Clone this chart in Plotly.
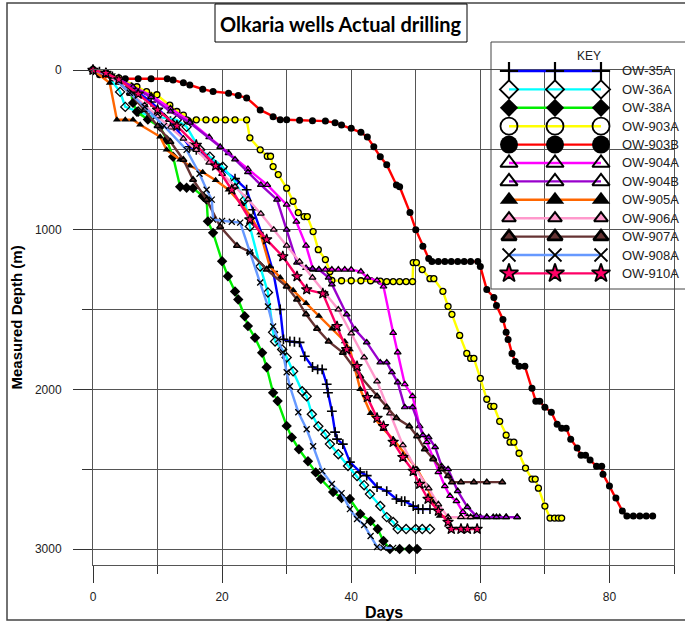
import plotly.graph_objects as go

W, H = 685, 622
# plot-area edges in pixels (left, right, top, bottom)
PL, PR, PT, PB = 93, 674, 70, 565

# ---------------- well data: days since spud vs measured depth (m) ----------------
ow35a_days = [0, 1, 3, 6, 9, 12, 15, 16, 18, 20, 22, 23.8, 24.8, 26.3, 27.9, 29, 29.5, 30.5, 31.2, 32, 32.8, 34, 34.8, 35.5, 36.2, 36.4, 37, 37.5, 37.8, 38.7, 39.8, 41.4, 42.4, 44, 45.5, 47, 47.8, 48.3, 49.6, 50.4, 51.1, 52.2]
ow35a_depth = [0, 10, 40, 110, 200, 320, 481, 500, 560, 620, 680, 750, 875, 1043, 1262, 1500, 1687, 1700, 1702, 1706, 1793, 1860, 1875, 1875, 1968, 2021, 2137, 2268, 2312, 2343, 2456, 2518, 2540, 2612, 2637, 2687, 2700, 2700, 2731, 2750, 2750, 2750]

ow36a_days = [0, 2, 4.2, 5, 7, 9, 11, 13, 14.5, 16.6, 18.1, 20.1, 22, 23.5, 24.3, 25.9, 27.1, 27.9, 28.2, 29.3, 30, 31, 32.4, 33.1, 33.9, 34.9, 36, 36.7, 38, 39.5, 40.9, 42, 42.9, 44.5, 45.5, 46.5, 47.2, 48.5, 50, 51, 52.2]
ow36a_depth = [0, 20, 137, 231, 260, 290, 300, 312, 356, 500, 543, 606, 700, 812, 980, 1231, 1393, 1643, 1700, 1750, 1800, 1887, 2012, 2043, 2156, 2231, 2281, 2343, 2406, 2480, 2543, 2600, 2656, 2731, 2800, 2831, 2875, 2875, 2875, 2875, 2875]

ow38a_days = [0, 2, 4, 5.7, 6.2, 6.8, 8.5, 10.4, 11.4, 12.4, 13.5, 14.5, 15.5, 17, 17.6, 17.8, 18.6, 20, 20.9, 22, 22.5, 23.5, 24, 25.1, 26.2, 26.9, 27.9, 28.6, 30, 30.8, 31.9, 33.3, 34.5, 35.3, 37.2, 38.5, 39.8, 41.4, 43, 44.1, 45, 46, 47.5, 49, 50.2]
ow38a_depth = [0, 20, 60, 106, 206, 262, 310, 356, 437, 543, 731, 737, 740, 790, 812, 948, 1020, 1198, 1292, 1387, 1437, 1542, 1604, 1677, 1771, 1862, 2021, 2073, 2229, 2301, 2375, 2450, 2520, 2562, 2643, 2680, 2687, 2781, 2825, 2875, 2950, 3000, 3000, 3000, 3000]

ow903a_days = [0, 2, 4, 6.8, 8.3, 9.9, 11.9, 13, 14, 14.5, 16, 17.5, 19, 20.5, 22, 23.8, 24.3, 25.9, 27, 27.5, 27.9, 28.7, 30, 31, 31.8, 32.7, 33.2, 34.1, 34.9, 36, 36.7, 37, 38.5, 40, 41.5, 43, 44.5, 45.5, 46.5, 47.5, 48.5, 49.5, 49.6, 50.1, 51, 52.2, 52.8, 54.2, 55, 55.6, 56.8, 57.9, 58.5, 59, 60, 61, 61.6, 62.1, 63, 64, 64.6, 65.2, 66, 67, 68, 68.5, 69, 70, 70.8, 71.5, 72.1, 72.6]
ow903a_depth = [0, 20, 50, 105, 135, 155, 220, 260, 282, 312, 312, 312, 312, 312, 312, 312, 425, 500, 540, 540, 605, 655, 740, 822, 893, 918, 918, 1012, 1125, 1187, 1262, 1318, 1320, 1320, 1320, 1320, 1322, 1325, 1325, 1325, 1325, 1325, 1206, 1206, 1250, 1307, 1307, 1386, 1480, 1530, 1662, 1775, 1806, 1806, 1931, 2062, 2106, 2106, 2200, 2287, 2331, 2331, 2400, 2493, 2562, 2562, 2619, 2731, 2806, 2806, 2806, 2806]

ow903b_days = [0, 1, 3, 5, 7, 9, 11.5, 12.4, 14, 15, 17, 18.6, 21, 22.5, 23.8, 25.9, 27.9, 29, 30, 32, 34, 36, 37.5, 38.5, 40, 41.5, 42.5, 43.5, 44.5, 45.5, 47, 47.5, 49.1, 50, 51.1, 52, 52.5, 53.5, 54.5, 55.5, 56.5, 57.5, 58.5, 59.6, 60, 61, 62.1, 62.5, 63.5, 64, 64.3, 64.9, 65.4, 66, 66.9, 68, 68.6, 69.2, 70, 71, 71.9, 72.6, 73.3, 74, 75, 75.6, 76.3, 77, 78, 78.8, 79, 80, 81, 82, 82.7, 83.7, 84.7, 85.7, 86.7]
ow903b_depth = [0, 30, 50, 55, 55, 55, 55, 62, 80, 94, 120, 135, 145, 160, 175, 250, 292, 312, 312, 315, 318, 320, 330, 345, 365, 390, 420, 480, 543, 593, 720, 731, 893, 1000, 1104, 1181, 1200, 1200, 1200, 1200, 1200, 1200, 1200, 1200, 1231, 1375, 1425, 1475, 1562, 1643, 1687, 1775, 1825, 1856, 1856, 1993, 2075, 2075, 2112, 2143, 2218, 2243, 2243, 2312, 2368, 2412, 2412, 2443, 2481, 2481, 2531, 2606, 2681, 2762, 2793, 2793, 2793, 2793, 2793]

ow904a_days = [0, 3, 6, 9, 12, 15, 18, 21, 24, 27, 30, 31.5, 33, 34.1, 35, 36, 37, 38, 39, 40, 41.5, 42.5, 44, 45, 46.5, 47.2, 48.3, 49.5, 50.6, 51.7, 52.7, 53.5, 54.5, 55.3, 56.3, 57.3, 58, 59, 60, 61, 62, 63, 64, 65.7]
ow904a_depth = [0, 40, 100, 160, 240, 320, 420, 520, 620, 720, 843, 950, 1100, 1250, 1250, 1250, 1250, 1250, 1250, 1250, 1262, 1300, 1318, 1356, 1646, 1768, 1968, 2043, 2231, 2331, 2431, 2518, 2606, 2668, 2700, 2768, 2800, 2800, 2800, 2800, 2800, 2800, 2800, 2800]

ow904b_days = [0, 3, 6.2, 9, 12, 15, 19.7, 22, 24, 26, 28.5, 30, 31.6, 33, 34, 35, 36.5, 37, 39.3, 40.6, 42.4, 44.5, 45.5, 46.3, 47.2, 48.3, 49.5, 51.1, 52, 53, 54, 55, 56.5, 58, 59.4, 61, 62.5, 64, 65.7]
ow904b_depth = [0, 40, 106, 170, 260, 330, 481, 560, 640, 720, 812, 1000, 1206, 1240, 1245, 1250, 1300, 1343, 1531, 1625, 1706, 1831, 1831, 1893, 1956, 2112, 2112, 2287, 2300, 2362, 2481, 2500, 2637, 2737, 2793, 2800, 2800, 2800, 2800]

ow905a_days = [0, 2.6, 3.7, 5, 6.2, 7.3, 10.4, 11.4, 13.5, 15, 17, 19, 21, 23, 24.5, 25.9, 27.4, 29, 31, 33, 35, 37, 39, 39.8, 41.4, 43, 45, 46.5, 48.6, 50.2, 51.7, 52.7, 53.7, 55, 57]
ow905a_depth = [0, 81, 312, 312, 312, 343, 418, 500, 562, 600, 640, 690, 750, 840, 920, 1020, 1231, 1300, 1380, 1460, 1540, 1620, 1700, 1750, 2000, 2150, 2250, 2312, 2418, 2500, 2606, 2706, 2793, 2800, 2800]

ow906a_days = [0, 2, 4, 6, 8, 10, 12, 14, 16, 18, 20, 22, 24, 26, 28, 30, 32, 34, 36, 38, 40, 42, 44, 46, 48, 50, 52, 53.5, 55, 57, 58.5]
ow906a_depth = [0, 30, 80, 150, 220, 290, 360, 430, 500, 580, 650, 730, 810, 900, 1000, 1100, 1200, 1300, 1400, 1500, 1650, 1800, 1950, 2150, 2350, 2500, 2620, 2720, 2800, 2800, 2800]

ow907a_days = [0, 3, 5.7, 8, 10, 12, 14, 15.5, 17.6, 19.7, 22.3, 24.3, 26.9, 30, 31.6, 33, 34.7, 36.5, 38.7, 41.4, 44, 45.5, 47, 49, 50.2, 51.4, 52.7, 54, 55, 55.6, 57, 59, 61, 63.4]
ow907a_depth = [0, 40, 143, 250, 350, 450, 562, 687, 812, 981, 1100, 1140, 1250, 1356, 1437, 1530, 1620, 1700, 1770, 1918, 2043, 2112, 2180, 2231, 2293, 2375, 2437, 2500, 2543, 2581, 2581, 2581, 2581, 2581]

ow908a_days = [0, 3, 5.7, 8, 11, 14.5, 16.5, 17.6, 18.4, 18.6, 20, 21.5, 22.8, 24.3, 25.9, 27.1, 27.9, 28.7, 29.4, 30, 30.5, 31.8, 33.1, 34.1, 35.5, 37, 38.5, 39.8, 40.9, 42, 43, 44, 45, 46.5]
ow908a_depth = [0, 40, 143, 230, 350, 500, 650, 750, 812, 937, 945, 950, 956, 1143, 1331, 1481, 1606, 1687, 1768, 1893, 1981, 2143, 2250, 2356, 2512, 2593, 2650, 2750, 2812, 2850, 2918, 2987, 2993, 2993]

ow910a_days = [0, 2, 4, 7, 10, 13, 16, 19, 21.5, 24.3, 26.9, 29.4, 31.6, 33.1, 35.6, 37.8, 39.3, 40.9, 42.5, 44, 45, 46.5, 48, 49.6, 50.6, 51.9, 53.5, 55, 55.5, 57, 58, 59.5]
ow910a_depth = [0, 20, 60, 150, 250, 350, 470, 600, 750, 937, 1062, 1168, 1293, 1375, 1400, 1606, 1750, 1856, 2050, 2180, 2231, 2330, 2425, 2512, 2593, 2687, 2762, 2831, 2875, 2875, 2875, 2875]

# tick values
x_major_ticks = [0, 20, 40, 60, 80]
y_major_ticks = [0, 1000, 2000, 3000]

# ---------------- per-well styling ----------------
wells = [
    dict(name="OW-35A", x=ow35a_days, y=ow35a_depth, color="#0000ff",
         sym="cross-thin", fill="black", edge="black", size=7, ew=1.6,
         lsym="cross-thin", lfill="black", lsize=13, lew=2.2),
    dict(name="OW-36A", x=ow36a_days, y=ow36a_depth, color="#00ffff",
         sym="diamond-open", fill="black", edge="black", size=7, ew=1.3,
         lsym="diamond-open", lfill="black", lsize=14, lew=1.8),
    dict(name="OW-38A", x=ow38a_days, y=ow38a_depth, color="#00ee00",
         sym="diamond", fill="black", edge="black", size=8, ew=0,
         lsym="diamond", lfill="black", lsize=14, lew=0),
    dict(name="OW-903A", x=ow903a_days, y=ow903a_depth, color="#ffff00",
         sym="circle", fill="#ffff00", edge="black", size=6, ew=1.3,
         lsym="circle-open", lfill="black", lsize=17, lew=1.8),
    dict(name="OW-903B", x=ow903b_days, y=ow903b_depth, color="#ff0000",
         sym="circle", fill="black", edge="black", size=7, ew=0,
         lsym="circle", lfill="black", lsize=18, lew=0),
    dict(name="OW-904A", x=ow904a_days, y=ow904a_depth, color="#ff00ff",
         sym="triangle-up", fill="#ff00ff", edge="black", size=6, ew=1.2,
         lsym="triangle-up-open", lfill="black", lsize=15, lew=2.0),
    dict(name="OW-904B", x=ow904b_days, y=ow904b_depth, color="#9900cc",
         sym="triangle-up", fill="#9900cc", edge="black", size=6, ew=1.2,
         lsym="triangle-up-open", lfill="black", lsize=15, lew=2.0),
    dict(name="OW-905A", x=ow905a_days, y=ow905a_depth, color="#ff6600",
         sym="triangle-up", fill="black", edge="black", size=7, ew=0,
         lsym="triangle-up", lfill="black", lsize=16, lew=0),
    dict(name="OW-906A", x=ow906a_days, y=ow906a_depth, color="#ff99cc",
         sym="triangle-up", fill="#ff99cc", edge="black", size=6, ew=1.2,
         lsym="triangle-up", lfill="#ff99cc", lsize=12, lew=2.0),
    dict(name="OW-907A", x=ow907a_days, y=ow907a_depth, color="#663333",
         sym="triangle-up", fill="#663333", edge="black", size=6, ew=1.5,
         lsym="triangle-up", lfill="#663333", lsize=13, lew=2.6),
    dict(name="OW-908A", x=ow908a_days, y=ow908a_depth, color="#6699ff",
         sym="x-thin", fill="black", edge="black", size=6, ew=1.3,
         lsym="x-thin", lfill="black", lsize=13, lew=1.8),
    dict(name="OW-910A", x=ow910a_days, y=ow910a_depth, color="#ff0066",
         sym="star", fill="#ff0066", edge="black", size=8, ew=1.2,
         lsym="star", lfill="#ff0066", lsize=14, lew=1.8),
]

fig = go.Figure()

for w in wells:
    fig.add_trace(go.Scatter(
        x=w["x"], y=w["y"], mode="lines+markers", name=w["name"],
        line=dict(color=w["color"], width=2.4),
        marker=dict(symbol=w["sym"], size=w["size"], color=w["fill"],
                    line=dict(color=w["edge"], width=w["ew"])),
        cliponaxis=False, showlegend=False,
    ))

# ---------------- hand-built key (three markers per row) ----------------
KEY_LEFT, KEY_TOP, KEY_BOTTOM = 491, 42, 289
KEY_ROW0, KEY_ROWSTEP = 71, 18.4
KEY_COLS = [509, 555, 601]
KEY_TEXT_X = 620

annotations = []
for i, w in enumerate(wells):
    ry = KEY_ROW0 + i * KEY_ROWSTEP
    fig.add_trace(go.Scatter(
        x=KEY_COLS, y=[ry] * len(KEY_COLS), mode="lines+markers",
        xaxis="x2", yaxis="y2", showlegend=False, hoverinfo="skip",
        line=dict(color=w["color"], width=2.4),
        marker=dict(symbol=w["lsym"], size=w["lsize"], color=w["lfill"],
                    line=dict(color="black", width=w["lew"])),
        cliponaxis=False,
    ))
    annotations.append(dict(
        x=KEY_TEXT_X / W, y=1 - ry / H, xref="paper", yref="paper",
        text=w["name"], showarrow=False, xanchor="left", yanchor="middle",
        font=dict(family="Liberation Sans, Arial", size=13, color="#222"),
    ))

annotations.append(dict(
    x=589 / W, y=1 - 56 / H, xref="paper", yref="paper", text="KEY",
    showarrow=False, xanchor="center", yanchor="middle",
    font=dict(family="Liberation Sans, Arial", size=12, color="#222"),
))

# chart title inside a framed box
annotations.append(dict(
    x=341 / W, y=1 - 24 / H, xref="paper", yref="paper",
    text="<b>Olkaria wells Actual drilling</b>", showarrow=False,
    xanchor="center", yanchor="middle",
    font=dict(family="Lato, Liberation Sans", size=20, color="black"),
))

# axis titles
annotations.append(dict(
    x=(PL + PR) / 2 / W, y=1 - 612 / H, xref="paper", yref="paper",
    text="<b>Days</b>", showarrow=False, xanchor="center", yanchor="middle",
    font=dict(family="Liberation Sans, Arial", size=16, color="black"),
))
annotations.append(dict(
    x=16 / W, y=1 - (PT + PB) / 2 / H, xref="paper", yref="paper",
    text="<b>Measured Depth (m)</b>", showarrow=False, textangle=-90,
    xanchor="center", yanchor="middle",
    font=dict(family="Liberation Sans, Arial", size=15, color="black"),
))

shapes = [
    # outer chart frame
    dict(type="rect", xref="paper", yref="paper", x0=7 / W, x1=1.02,
         y0=1 - 620 / H, y1=1 - 3 / H, line=dict(color="#444", width=1.5)),
    # title frame
    dict(type="rect", xref="paper", yref="paper", x0=215 / W, x1=467 / W,
         y0=1 - 42 / H, y1=1 - 4 / H, line=dict(color="black", width=1)),
    # key frame
    dict(type="rect", xref="paper", yref="paper", x0=KEY_LEFT / W, x1=1.02,
         y0=1 - KEY_BOTTOM / H, y1=1 - KEY_TOP / H, line=dict(color="#444", width=1)),
]

grid_col = "#555"
tick_font = dict(family="Liberation Sans, Arial", size=12, color="#222")

fig.update_layout(
    width=W, height=H,
    margin=dict(l=0, r=0, t=0, b=0),
    paper_bgcolor="white", plot_bgcolor="rgba(0,0,0,0)",
    showlegend=False,
    annotations=annotations, shapes=shapes,
    xaxis=dict(
        domain=[PL / W, PR / W], range=[0, 90], anchor="y",
        tickmode="array", tickvals=x_major_ticks,
        ticks="outside", ticklen=17, tickcolor="#333", tickwidth=1,
        showgrid=True, gridcolor=grid_col, gridwidth=1,
        minor=dict(dtick=10, tick0=0, ticks="outside", ticklen=8,
                   tickcolor="#333", showgrid=True, gridcolor=grid_col),
        showline=True, linecolor=grid_col, linewidth=1, mirror=True,
        zeroline=False, tickfont=tick_font, automargin=False,
        ticklabelstandoff=4,
    ),
    yaxis=dict(
        domain=[1 - PB / H, 1 - PT / H], range=[3100, 0], anchor="x",
        tickmode="array", tickvals=y_major_ticks,
        ticks="outside", ticklen=19, tickcolor="#333", tickwidth=1,
        showgrid=True, gridcolor=grid_col, gridwidth=1,
        minor=dict(dtick=500, tick0=0, ticks="outside", ticklen=10,
                   tickcolor="#333", showgrid=True, gridcolor=grid_col),
        showline=True, linecolor=grid_col, linewidth=1, mirror=True,
        zeroline=False, tickfont=tick_font, automargin=False,
        ticklabelstandoff=9,
    ),
    xaxis2=dict(domain=[0, 1], range=[0, W], anchor="y2", visible=False, fixedrange=True),
    yaxis2=dict(domain=[0, 1], range=[H, 0], anchor="x2", visible=False, fixedrange=True),
)

fig.write_html("out.html")
